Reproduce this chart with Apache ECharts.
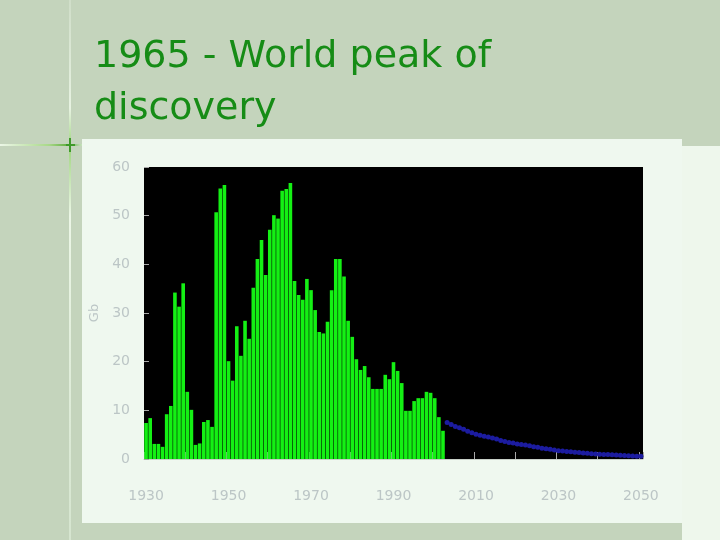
<!DOCTYPE html>
<html>
<head>
<meta charset="utf-8">
<script src="https://cdn.jsdelivr.net/npm/echarts@6/dist/echarts.min.js"></script>
<style>
  html, body { margin: 0; padding: 0; background: #c4d4bc; }
  #main { width: 720px; height: 540px; }
</style>
</head>
<body>
<div id="main"></div>
<script>
// discoveries per year, 1930 - 2002 (Gb)
var firstYear = 1930
var lastYear = 2050
var discovered = [
  7.4, 8.4, 3.1, 3.1, 2.5, 9.2, 10.9, 34.2, 31.3, 36.1,
  13.8, 10.1, 2.9, 3.2, 7.6, 8.0, 6.6, 50.7, 55.6, 56.3,
  20.1, 16.1, 27.3, 21.2, 28.4, 24.7, 35.2, 41.1, 45.0, 37.8,
  47.1, 50.1, 49.4, 55.1, 55.5, 56.7, 36.6, 33.7, 32.7, 37.0,
  34.7, 30.6, 26.1, 25.8, 28.2, 34.7, 41.1, 41.1, 37.5, 28.4,
  25.1, 20.5, 18.3, 19.1, 16.8, 14.4, 14.4, 14.4, 17.3, 16.4,
  19.9, 18.1, 15.6, 9.9, 9.9, 11.9, 12.5, 12.5, 13.8, 13.6,
  12.5, 8.6, 5.8
]
// forecast, 2003 - 2050
var forecast = [
  7.5, 7.1, 6.7, 6.4, 6.1, 5.7, 5.4, 5.1, 4.9, 4.7,
  4.5, 4.3, 4.1, 3.8, 3.6, 3.4, 3.3, 3.1, 3.0, 2.9,
  2.7, 2.5, 2.4, 2.2, 2.1, 2.0, 1.85, 1.7, 1.65, 1.55,
  1.5, 1.4, 1.35, 1.25, 1.2, 1.1, 1.05, 1.0, 0.95, 0.9,
  0.85, 0.8, 0.75, 0.7, 0.65, 0.6, 0.58, 0.55
]
var yTicks = [0, 10, 20, 30, 40, 50, 60]

var years = []
for (var y = firstYear; y <= lastYear; y++) years.push(String(y))
var barData = years.map(function (v, i) { return i < discovered.length ? discovered[i] : null })
var lineData = years.map(function (v, i) {
  var k = i - discovered.length
  return k >= 0 && k < forecast.length ? forecast[k] : null
})

var chart = echarts.init(document.getElementById('main'))
var option = {
  backgroundColor: '#c4d4bc',
  animation: false,
  title: {
    text: '1965 - World peak of\ndiscovery',
    left: 89,
    top: 26,
    textStyle: {
      color: '#168c16',
      fontFamily: 'DejaVu Sans',
      fontWeight: 'normal',
      fontSize: 38,
      lineHeight: 52
    }
  },
  graphic: [
    { type: 'rect', z: -10, shape: { x: 682, y: 146, width: 38, height: 394 }, style: { fill: '#eef7ec' } },
    { type: 'rect', z: -10, shape: { x: 82, y: 139, width: 600, height: 384 }, style: { fill: '#eff8ef' } },
    {
      type: 'rect', z: -9, shape: { x: 69, y: 0, width: 2, height: 540 },
      style: {
        fill: new echarts.graphic.LinearGradient(0, 0, 0, 1, [
          { offset: 0, color: 'rgba(235,245,230,0.3)' },
          { offset: 0.2, color: 'rgba(240,250,235,0.8)' },
          { offset: 0.27, color: '#9ed47e' },
          { offset: 0.4, color: 'rgba(240,250,235,0.9)' },
          { offset: 1, color: 'rgba(225,240,220,0.6)' }
        ])
      }
    },
    {
      type: 'rect', z: -9, shape: { x: 0, y: 144, width: 82, height: 2 },
      style: {
        fill: new echarts.graphic.LinearGradient(0, 0, 1, 0, [
          { offset: 0, color: 'rgba(240,250,235,0.9)' },
          { offset: 0.6, color: '#a8d888' },
          { offset: 0.85, color: '#5aa83a' },
          { offset: 1, color: 'rgba(200,230,190,0.8)' }
        ])
      }
    },
    { type: 'rect', z: -8, shape: { x: 66, y: 144, width: 9, height: 2 }, style: { fill: '#3f9a2a' } },
    { type: 'rect', z: -8, shape: { x: 69, y: 138, width: 2, height: 14 }, style: { fill: '#3f9a2a' } }
  ],
  grid: {
    left: 144,
    right: 77,
    top: 167,
    bottom: 81,
    show: true,
    backgroundColor: '#000',
    borderWidth: 0
  },
  xAxis: {
    type: 'category',
    data: years,
    boundaryGap: true,
    axisLine: { show: true, lineStyle: { color: '#c8d0c8', width: 1 } },
    axisTick: { show: true, inside: true, length: 7, interval: 9, lineStyle: { color: '#a8a8a8' } },
    axisLabel: {
      interval: 19,
      margin: 30,
      color: '#bcc6c6',
      fontSize: 14,
      fontFamily: 'DejaVu Sans'
    },
    splitLine: { show: false }
  },
  yAxis: {
    type: 'value',
    min: yTicks[0],
    max: yTicks[yTicks.length - 1],
    interval: 10,
    name: 'Gb',
    nameLocation: 'middle',
    nameGap: 42,
    nameRotate: 90,
    nameTextStyle: { color: '#bcc6c6', fontSize: 13, fontFamily: 'DejaVu Sans' },
    axisLine: { show: false },
    axisTick: { show: true, inside: true, length: 5, lineStyle: { color: '#a8a8a8' } },
    axisLabel: { margin: 14, color: '#bcc6c6', fontSize: 14, fontFamily: 'DejaVu Sans' },
    splitLine: { show: false }
  },
  series: [
    {
      name: 'Discovered',
      type: 'bar',
      data: barData,
      barWidth: 3.6,
      barGap: '-100%',
      itemStyle: { color: '#14f014' }
    },
    {
      name: 'Forecast',
      type: 'line',
      data: lineData,
      symbol: 'circle',
      symbolSize: 5,
      showSymbol: true,
      showAllSymbol: true,
      connectNulls: false,
      lineStyle: { color: '#12128a', width: 2 },
      itemStyle: { color: '#1c1ca0', borderWidth: 0 }
    }
  ]
}
option && chart.setOption(option)
</script>
</body>
</html>
